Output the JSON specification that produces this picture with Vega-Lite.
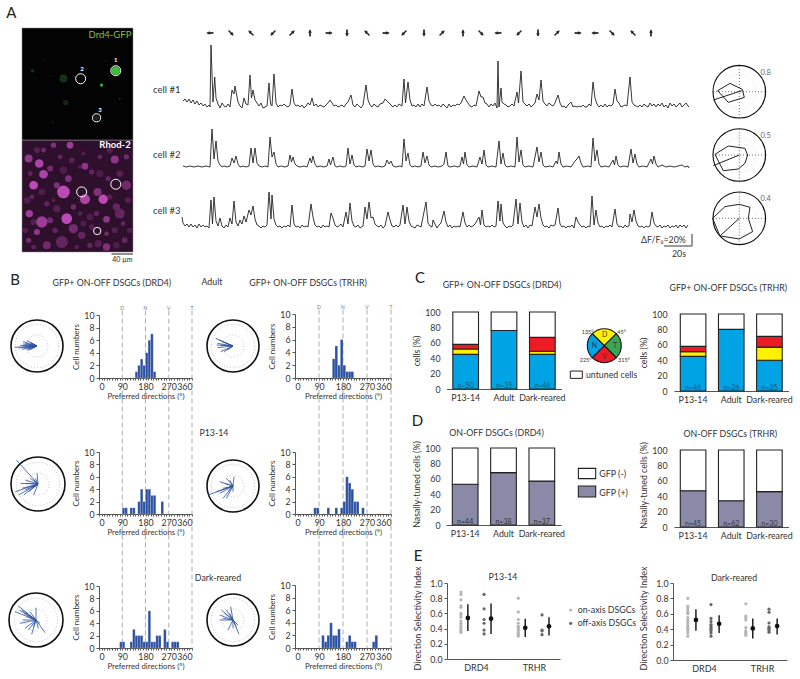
{"$schema":"https://vega.github.io/schema/vega-lite/v6.json","width":800,"height":679,"autosize":"none","padding":0,"background":"white",
"config":{"view":{"stroke":null},"axis":{"grid":false,"labelFont":"Lato","titleFont":"Lato","labelFontSize":8.8,"titleFontSize":8.8,"titleFontWeight":"normal","labelColor":"#333","titleColor":"#333","domainColor":"#555","tickColor":"#555"},"text":{"font":"Lato","fontSize":8.8,"color":"#333"}},
"resolve":{"scale":{"x":"independent","y":"independent","color":"independent","size":"independent","theta":"independent","angle":"independent"},"axis":{"x":"independent","y":"independent"}},
"layer":[
{"encoding":{"x":{"type":"quantitative","scale":{"domain":[65,400],"range":[22,133]},"axis":null},"y":{"type":"quantitative","scale":{"domain":[84,755],"range":[28,252]},"axis":null}},"layer":[
{"data":{"values":[{"x0":65,"x1":400,"y0":84,"y1":420}]},"mark":{"type":"rect","fill":"#020302","stroke":"#888","strokeWidth":0.5},"encoding":{"x":{"field":"x0"},"x2":{"field":"x1"},"y":{"field":"y0"},"y2":{"field":"y1"}}},
{"data":{"values":[{"x0":65,"x1":400,"y0":420,"y1":755}]},"mark":{"type":"rect","fill":"#2e0f2c","stroke":"#888","strokeWidth":0.5},"encoding":{"x":{"field":"x0"},"x2":{"field":"x1"},"y":{"field":"y0"},"y2":{"field":"y1"}}}
]},
{"data":{"values":[{"x":110,"y":450,"r":9,"i":0.3},{"x":190,"y":510,"r":11,"i":0.25},{"x":300,"y":520,"r":11,"i":0.25},{"x":360,"y":520,"r":10,"i":0.3},{"x":80,"y":600,"r":10,"i":0.25},{"x":125,"y":575,"r":10,"i":0.25},{"x":170,"y":625,"r":11,"i":0.3},{"x":270,"y":650,"r":10,"i":0.25},{"x":100,"y":665,"r":9,"i":0.3},{"x":250,"y":670,"r":9,"i":0.25},{"x":295,"y":730,"r":11,"i":0.3},{"x":350,"y":735,"r":10,"i":0.25},{"x":385,"y":600,"r":9,"i":0.3},{"x":330,"y":590,"r":8,"i":0.3},{"x":215,"y":480,"r":9,"i":0.3},{"x":330,"y":450,"r":9,"i":0.3},{"x":390,"y":690,"r":8,"i":0.3},{"x":75,"y":690,"r":8,"i":0.3},{"x":85,"y":475,"r":12,"i":0.7},{"x":117,"y":490,"r":13,"i":0.9},{"x":130,"y":522,"r":13,"i":0.9},{"x":100,"y":555,"r":13,"i":1},{"x":190,"y":575,"r":19,"i":1},{"x":160,"y":435,"r":8,"i":0.6},{"x":210,"y":435,"r":10,"i":0.8},{"x":345,"y":478,"r":12,"i":0.7},{"x":255,"y":498,"r":10,"i":0.7},{"x":205,"y":535,"r":10,"i":0.6},{"x":170,"y":555,"r":9,"i":0.6},{"x":150,"y":505,"r":9,"i":0.5},{"x":255,"y":597,"r":15,"i":0.9},{"x":310,"y":597,"r":14,"i":1},{"x":293,"y":575,"r":12,"i":0.6},{"x":200,"y":655,"r":16,"i":1},{"x":125,"y":665,"r":17,"i":0.8},{"x":87,"y":640,"r":11,"i":0.8},{"x":110,"y":695,"r":9,"i":0.7},{"x":140,"y":735,"r":12,"i":0.5},{"x":185,"y":725,"r":18,"i":0.4},{"x":220,"y":685,"r":14,"i":0.5},{"x":245,"y":705,"r":11,"i":0.4},{"x":320,"y":657,"r":10,"i":0.7},{"x":320,"y":740,"r":11,"i":0.6},{"x":360,"y":640,"r":15,"i":0.4},{"x":380,"y":555,"r":14,"i":0.5},{"x":350,"y":620,"r":11,"i":0.4},{"x":275,"y":515,"r":8,"i":0.4},{"x":325,"y":535,"r":8,"i":0.4},{"x":85,"y":720,"r":8,"i":0.5},{"x":270,"y":735,"r":8,"i":0.4},{"x":150,"y":660,"r":9,"i":0.5},{"x":380,"y":470,"r":8,"i":0.5},{"x":300,"y":470,"r":7,"i":0.4},{"x":95,"y":590,"r":7,"i":0.4},{"x":140,"y":610,"r":8,"i":0.4},{"x":220,"y":620,"r":8,"i":0.5},{"x":240,"y":640,"r":7,"i":0.3},{"x":290,"y":640,"r":8,"i":0.4},{"x":345,"y":690,"r":9,"i":0.3},{"x":375,"y":720,"r":9,"i":0.4},{"x":250,"y":460,"r":6,"i":0.3},{"x":180,"y":470,"r":7,"i":0.4},{"x":130,"y":450,"r":7,"i":0.5},{"x":90,"y":520,"r":7,"i":0.4},{"x":240,"y":500,"r":6,"i":0.3},{"x":370,"y":670,"r":7,"i":0.4},{"x":275,"y":680,"r":8,"i":0.3},{"x":165,"y":690,"r":8,"i":0.4},{"x":320,"y":700,"r":7,"i":0.5},{"x":100,"y":740,"r":7,"i":0.4},{"x":230,"y":740,"r":7,"i":0.3},{"x":160,"y":600,"r":6,"i":0.3}]},"mark":{"type":"circle","opacity":1},"encoding":{"x":{"field":"x","type":"quantitative","scale":{"domain":[65,400],"range":[22,133]},"axis":null},"y":{"field":"y","type":"quantitative","scale":{"domain":[84,755],"range":[28,252]},"axis":null},"size":{"field":"r","type":"quantitative","scale":{"type":"pow","exponent":2,"domain":[0,20],"range":[0,178]},"legend":null},"color":{"field":"i","type":"quantitative","scale":{"domain":[0,1],"range":["#2e0f2c","#bc4ab4"]},"legend":null}}},
{"data":{"values":[{"x":348,"y":212,"r":13,"i":1},{"x":305,"y":255,"r":5,"i":0.9},{"x":190,"y":235,"r":12,"i":0.25},{"x":97,"y":212,"r":5,"i":0.25},{"x":197,"y":307,"r":8,"i":0.18},{"x":360,"y":297,"r":3,"i":0.25},{"x":150,"y":228,"r":2,"i":0.2},{"x":130,"y":180,"r":3,"i":0.15},{"x":315,"y":183,"r":2,"i":0.2},{"x":158,"y":367,"r":3,"i":0.15},{"x":290,"y":353,"r":8,"i":0.2}]},"mark":{"type":"circle","opacity":1},"encoding":{"x":{"field":"x","type":"quantitative","scale":{"domain":[65,400],"range":[22,133]},"axis":null},"y":{"field":"y","type":"quantitative","scale":{"domain":[84,755],"range":[28,252]},"axis":null},"size":{"field":"r","type":"quantitative","scale":{"type":"pow","exponent":2,"domain":[0,20],"range":[0,178]},"legend":null},"color":{"field":"i","type":"quantitative","scale":{"domain":[0,1],"range":["#020302","#3cc03c"]},"legend":null}}},
{"encoding":{"x":{"type":"quantitative","scale":{"domain":[65,400],"range":[22,133]},"axis":null},"y":{"type":"quantitative","scale":{"domain":[84,755],"range":[28,252]},"axis":null}},"layer":[
{"data":{"values":[{"x":348,"y":212,"r":15},{"x":242,"y":236,"r":15},{"x":290,"y":353,"r":12},{"x":348,"y":552,"r":15},{"x":245,"y":575,"r":15},{"x":292,"y":692,"r":11}]},"mark":{"type":"point","filled":false,"stroke":"white","strokeWidth":1,"opacity":1},"encoding":{"x":{"field":"x"},"y":{"field":"y"},"size":{"field":"r","type":"quantitative","scale":{"type":"pow","exponent":2,"domain":[0,20],"range":[0,178]},"legend":null}}},
{"data":{"values":[{"x":348,"y":180,"s":"1"},{"x":246,"y":208,"s":"2"},{"x":300,"y":330,"s":"3"}]},"mark":{"type":"text","color":"white","fontSize":6,"fontWeight":"bold"},"encoding":{"x":{"field":"x"},"y":{"field":"y"},"text":{"field":"s"}}},
{"data":{"values":[{"x":395,"y":104,"s":"Drd4-GFP"}]},"mark":{"type":"text","color":"#8ac040","fontSize":9.5,"align":"right"},"encoding":{"x":{"field":"x"},"y":{"field":"y"},"text":{"field":"s"}}},
{"data":{"values":[{"x":393,"y":435,"s":"Rhod-2"}]},"mark":{"type":"text","color":"white","fontSize":9.5,"fontWeight":"bold","align":"right"},"encoding":{"x":{"field":"x"},"y":{"field":"y"},"text":{"field":"s"}}},
{"data":{"values":[{"x":335,"x1":400,"y":761}]},"mark":{"type":"rule","stroke":"#222","strokeWidth":1},"encoding":{"x":{"field":"x"},"x2":{"field":"x1"},"y":{"field":"y"}}},
{"data":{"values":[{"x":368,"y":778,"s":"40 µm"}]},"mark":{"type":"text","color":"#222","fontSize":7},"encoding":{"x":{"field":"x"},"y":{"field":"y"},"text":{"field":"s"}}},
{"data":{"values":[{"x":33,"y":40,"s":"A"}]},"mark":{"type":"text","color":"#222","fontSize":15},"encoding":{"x":{"field":"x"},"y":{"field":"y"},"text":{"field":"s"}}}
]},
{"encoding":{"x":{"type":"quantitative","scale":{"domain":[3,513],"range":[183,693]},"axis":null},"y":{"type":"quantitative","scale":{"domain":[0,100],"range":[106,6]},"axis":null}},"layer":[
{"data":{"values":[{"t":3,"v":5},{"t":5,"v":7},{"t":7,"v":4},{"t":9,"v":7},{"t":11,"v":3},{"t":13,"v":6},{"t":15,"v":2},{"t":17,"v":5},{"t":19,"v":1},{"t":21,"v":3},{"t":23,"v":0},{"t":25,"v":2},{"t":27,"v":-1},{"t":29,"v":1},{"t":30,"v":-1},{"t":31,"v":61},{"t":33,"v":4},{"t":34.7,"v":29},{"t":36,"v":8},{"t":38,"v":2},{"t":40,"v":-2},{"t":42,"v":3},{"t":44,"v":0},{"t":46,"v":-1},{"t":48,"v":2},{"t":50,"v":-1},{"t":52,"v":16},{"t":54,"v":12},{"t":55,"v":20},{"t":56.5,"v":12},{"t":58,"v":4},{"t":60,"v":0},{"t":62,"v":-2},{"t":64,"v":8},{"t":66,"v":2},{"t":68,"v":1},{"t":70,"v":31},{"t":71.5,"v":8},{"t":73,"v":16},{"t":75,"v":6},{"t":77,"v":3},{"t":79,"v":0},{"t":81,"v":3},{"t":83,"v":-2},{"t":85,"v":-1},{"t":87,"v":0},{"t":89,"v":23},{"t":90.5,"v":2},{"t":92,"v":0},{"t":94,"v":32},{"t":96,"v":3},{"t":98,"v":-1},{"t":100,"v":1},{"t":102,"v":0},{"t":104,"v":2},{"t":106,"v":0},{"t":108,"v":-1},{"t":110,"v":1},{"t":112,"v":17},{"t":114,"v":3},{"t":116,"v":0},{"t":118,"v":1},{"t":120,"v":-1},{"t":122,"v":1},{"t":124,"v":-2},{"t":126,"v":0},{"t":128,"v":3},{"t":130,"v":1},{"t":132,"v":8},{"t":134,"v":0},{"t":136,"v":2},{"t":138,"v":-1},{"t":140,"v":1},{"t":142,"v":0},{"t":144,"v":-1},{"t":146,"v":1},{"t":148,"v":3},{"t":150,"v":6},{"t":152,"v":3},{"t":154,"v":0},{"t":156,"v":1},{"t":158,"v":-1},{"t":160,"v":0},{"t":162,"v":1},{"t":164,"v":-1},{"t":166,"v":2},{"t":168,"v":4},{"t":171,"v":11},{"t":173,"v":1},{"t":175,"v":-1},{"t":177,"v":2},{"t":179,"v":0},{"t":181,"v":-2},{"t":183,"v":1},{"t":186,"v":21},{"t":188,"v":6},{"t":190,"v":1},{"t":192,"v":-1},{"t":194,"v":2},{"t":196,"v":0},{"t":198,"v":-1},{"t":200,"v":2},{"t":203,"v":3},{"t":205,"v":7},{"t":207,"v":5},{"t":209,"v":3},{"t":211,"v":1},{"t":213,"v":-1},{"t":215,"v":1},{"t":217,"v":-1},{"t":219,"v":2},{"t":222,"v":0},{"t":224,"v":27},{"t":225.5,"v":3},{"t":228,"v":24},{"t":230,"v":6},{"t":232,"v":0},{"t":234,"v":1},{"t":236,"v":-1},{"t":238,"v":2},{"t":240,"v":-1},{"t":242,"v":2},{"t":244,"v":0},{"t":247,"v":19},{"t":249,"v":5},{"t":251,"v":1},{"t":253,"v":0},{"t":255,"v":2},{"t":257,"v":0},{"t":259,"v":1},{"t":261,"v":-1},{"t":263,"v":2},{"t":265,"v":0},{"t":267,"v":-2},{"t":269,"v":2},{"t":271,"v":-1},{"t":273,"v":1},{"t":275,"v":0},{"t":277,"v":2},{"t":279,"v":1},{"t":281,"v":3},{"t":284,"v":10},{"t":286,"v":6},{"t":288,"v":3},{"t":290,"v":0},{"t":292,"v":-1},{"t":294,"v":1},{"t":296,"v":0},{"t":299,"v":15},{"t":301,"v":9},{"t":303,"v":9},{"t":305,"v":3},{"t":307,"v":2},{"t":309,"v":-1},{"t":311,"v":2},{"t":313,"v":0},{"t":315,"v":3},{"t":317,"v":-2},{"t":318,"v":45},{"t":319,"v":-1},{"t":321,"v":18},{"t":322,"v":4},{"t":324,"v":2},{"t":326,"v":1},{"t":328,"v":-1},{"t":330,"v":0},{"t":332,"v":2},{"t":334,"v":0},{"t":337,"v":14},{"t":338.5,"v":3},{"t":341,"v":35},{"t":343,"v":4},{"t":345,"v":2},{"t":347,"v":0},{"t":349,"v":2},{"t":351,"v":-1},{"t":353,"v":1},{"t":355,"v":3},{"t":357,"v":12},{"t":359,"v":6},{"t":361,"v":26},{"t":363,"v":5},{"t":365,"v":2},{"t":367,"v":0},{"t":369,"v":3},{"t":371,"v":1},{"t":373,"v":0},{"t":375,"v":3},{"t":378,"v":11},{"t":380,"v":3},{"t":382,"v":-1},{"t":384,"v":0},{"t":386,"v":-2},{"t":388,"v":1},{"t":391,"v":4},{"t":393,"v":-1},{"t":395,"v":0},{"t":397,"v":-1},{"t":399,"v":0},{"t":401,"v":-1},{"t":403,"v":1},{"t":405,"v":-1},{"t":407,"v":-1},{"t":409,"v":2},{"t":411,"v":0},{"t":413,"v":24},{"t":415,"v":8},{"t":417,"v":2},{"t":419,"v":-1},{"t":421,"v":1},{"t":423,"v":-1},{"t":425,"v":2},{"t":427,"v":-1},{"t":429,"v":1},{"t":431,"v":0},{"t":433,"v":2},{"t":435,"v":17},{"t":437,"v":5},{"t":439,"v":3},{"t":441,"v":-1},{"t":443,"v":0},{"t":445,"v":1},{"t":447,"v":0},{"t":450,"v":29},{"t":452,"v":4},{"t":454,"v":1},{"t":456,"v":0},{"t":458,"v":-1},{"t":460,"v":1},{"t":462,"v":-1},{"t":464,"v":2},{"t":466,"v":0},{"t":468,"v":-1},{"t":470,"v":3},{"t":472,"v":0},{"t":474,"v":2},{"t":476,"v":-1},{"t":478,"v":2},{"t":480,"v":0},{"t":482,"v":3},{"t":484,"v":-1},{"t":486,"v":1},{"t":488,"v":-2},{"t":490,"v":3},{"t":492,"v":0},{"t":494,"v":2},{"t":496,"v":-1},{"t":498,"v":1},{"t":500,"v":3},{"t":502,"v":-1},{"t":504,"v":1},{"t":506,"v":3},{"t":508,"v":0},{"t":509,"v":-1}]},"mark":{"type":"line","stroke":"#222","strokeWidth":0.9},"encoding":{"x":{"field":"t"},"y":{"field":"v"}}},
{"data":{"values":[{"t":-27,"v":16,"s":"cell #1"}]},"mark":{"type":"text","align":"left","fontSize":9.5},"encoding":{"x":{"field":"t"},"y":{"field":"v"},"text":{"field":"s"}}},
{"data":{"values":[{"t":30,"a":270},{"t":51,"a":135},{"t":71,"a":315},{"t":93,"a":225},{"t":112,"a":45},{"t":130,"a":0},{"t":149,"a":90},{"t":167,"a":180},{"t":187,"a":315},{"t":206,"a":90},{"t":224,"a":225},{"t":244,"a":180},{"t":262,"a":45},{"t":283,"a":0},{"t":301,"a":135},{"t":318,"a":270},{"t":339,"a":225},{"t":358,"a":180},{"t":377,"a":45},{"t":398,"a":90},{"t":415,"a":270},{"t":432,"a":135},{"t":453,"a":315},{"t":471,"a":0}]},"mark":{"type":"point","shape":"arrow","filled":true,"size":40,"fill":"#111","stroke":"#111","strokeWidth":0.6,"opacity":1},"encoding":{"x":{"field":"t"},"y":{"datum":73},"angle":{"field":"a","type":"quantitative","scale":{"domain":[0,360],"range":[0,360]}}}}
]},
{"encoding":{"x":{"type":"quantitative","scale":{"domain":[3,513],"range":[183,693]},"axis":null},"y":{"type":"quantitative","scale":{"domain":[0,100],"range":[167,67]},"axis":null}},"layer":[
{"data":{"values":[{"t":3,"v":1},{"t":6,"v":0},{"t":10,"v":1},{"t":14,"v":0},{"t":18,"v":1},{"t":22,"v":0},{"t":26,"v":1},{"t":30,"v":0},{"t":32,"v":38},{"t":34,"v":8},{"t":36,"v":26},{"t":38,"v":6},{"t":40,"v":2},{"t":42,"v":0},{"t":44,"v":1},{"t":47,"v":0},{"t":50,"v":1},{"t":52,"v":9},{"t":54,"v":4},{"t":56,"v":11},{"t":58,"v":3},{"t":60,"v":0},{"t":63,"v":1},{"t":66,"v":0},{"t":69,"v":1},{"t":71,"v":19},{"t":73,"v":4},{"t":75,"v":19},{"t":77,"v":4},{"t":79,"v":1},{"t":82,"v":0},{"t":85,"v":1},{"t":88,"v":0},{"t":90,"v":30},{"t":92,"v":10},{"t":94,"v":15},{"t":96,"v":3},{"t":98,"v":0},{"t":101,"v":1},{"t":105,"v":0},{"t":108,"v":1},{"t":110,"v":12},{"t":111.5,"v":5},{"t":113,"v":10},{"t":115,"v":3},{"t":117,"v":1},{"t":120,"v":0},{"t":124,"v":1},{"t":127,"v":0},{"t":130,"v":9},{"t":131.5,"v":4},{"t":133,"v":11},{"t":135,"v":3},{"t":137,"v":0},{"t":140,"v":1},{"t":144,"v":0},{"t":147,"v":1},{"t":149,"v":8},{"t":150.5,"v":2},{"t":153,"v":10},{"t":155,"v":1},{"t":157,"v":0},{"t":160,"v":1},{"t":164,"v":0},{"t":166,"v":1},{"t":168,"v":19},{"t":170,"v":3},{"t":172,"v":12},{"t":174,"v":2},{"t":176,"v":0},{"t":179,"v":1},{"t":183,"v":0},{"t":185,"v":1},{"t":187,"v":18},{"t":189,"v":6},{"t":191,"v":17},{"t":193,"v":3},{"t":195,"v":0},{"t":198,"v":1},{"t":202,"v":0},{"t":205,"v":1},{"t":207,"v":7},{"t":209,"v":3},{"t":211,"v":6},{"t":213,"v":1},{"t":216,"v":0},{"t":220,"v":1},{"t":222,"v":0},{"t":224,"v":28},{"t":226,"v":6},{"t":228,"v":14},{"t":230,"v":2},{"t":232,"v":0},{"t":235,"v":1},{"t":238,"v":0},{"t":241,"v":1},{"t":243,"v":15},{"t":245,"v":4},{"t":247,"v":11},{"t":249,"v":2},{"t":251,"v":0},{"t":255,"v":1},{"t":258,"v":0},{"t":262,"v":1},{"t":264,"v":3},{"t":266,"v":15},{"t":268,"v":1},{"t":270,"v":0},{"t":274,"v":1},{"t":278,"v":0},{"t":280,"v":1},{"t":282,"v":10},{"t":283.5,"v":3},{"t":285,"v":15},{"t":287,"v":2},{"t":289,"v":0},{"t":293,"v":1},{"t":297,"v":0},{"t":300,"v":10},{"t":302,"v":3},{"t":304,"v":17},{"t":306,"v":2},{"t":308,"v":0},{"t":312,"v":1},{"t":316,"v":0},{"t":319,"v":26},{"t":321,"v":3},{"t":323,"v":14},{"t":325,"v":2},{"t":327,"v":0},{"t":331,"v":1},{"t":335,"v":0},{"t":337,"v":30},{"t":339,"v":5},{"t":341,"v":17},{"t":343,"v":2},{"t":345,"v":0},{"t":349,"v":1},{"t":353,"v":0},{"t":357,"v":20},{"t":359,"v":5},{"t":361,"v":15},{"t":363,"v":2},{"t":365,"v":0},{"t":370,"v":1},{"t":373,"v":0},{"t":376,"v":6},{"t":377.5,"v":3},{"t":379,"v":15},{"t":381,"v":3},{"t":383,"v":0},{"t":387,"v":1},{"t":391,"v":0},{"t":395,"v":6},{"t":397,"v":8},{"t":399,"v":11},{"t":401,"v":4},{"t":403,"v":0},{"t":408,"v":1},{"t":411,"v":0},{"t":413,"v":29},{"t":415,"v":6},{"t":417,"v":17},{"t":419,"v":3},{"t":421,"v":0},{"t":425,"v":1},{"t":429,"v":0},{"t":433,"v":7},{"t":434.5,"v":2},{"t":436,"v":11},{"t":438,"v":2},{"t":440,"v":0},{"t":444,"v":1},{"t":448,"v":0},{"t":451,"v":18},{"t":453,"v":4},{"t":455,"v":13},{"t":457,"v":3},{"t":459,"v":0},{"t":463,"v":1},{"t":467,"v":0},{"t":471,"v":8},{"t":472.5,"v":3},{"t":474,"v":11},{"t":476,"v":3},{"t":478,"v":0},{"t":482,"v":2},{"t":486,"v":0},{"t":490,"v":1},{"t":494,"v":0},{"t":498,"v":1},{"t":502,"v":2},{"t":505,"v":0},{"t":508,"v":1},{"t":509,"v":-1}]},"mark":{"type":"line","stroke":"#222","strokeWidth":0.9},"encoding":{"x":{"field":"t"},"y":{"field":"v"}}},
{"data":{"values":[{"t":-27,"v":12,"s":"cell #2"}]},"mark":{"type":"text","align":"left","fontSize":9.5},"encoding":{"x":{"field":"t"},"y":{"field":"v"},"text":{"field":"s"}}}
]},
{"encoding":{"x":{"type":"quantitative","scale":{"domain":[3,513],"range":[183,693]},"axis":null},"y":{"type":"quantitative","scale":{"domain":[0,100],"range":[227,127]},"axis":null}},"layer":[
{"data":{"values":[{"t":2,"v":10},{"t":3,"v":4},{"t":5,"v":1},{"t":7,"v":3},{"t":9,"v":0},{"t":11,"v":3},{"t":13,"v":0},{"t":15,"v":2},{"t":17,"v":-1},{"t":19,"v":3},{"t":21,"v":0},{"t":23,"v":2},{"t":25,"v":0},{"t":27,"v":1},{"t":29,"v":-1},{"t":31,"v":27},{"t":32.5,"v":3},{"t":34,"v":30},{"t":36,"v":6},{"t":38,"v":1},{"t":40,"v":9},{"t":42,"v":1},{"t":44,"v":-1},{"t":46,"v":2},{"t":48,"v":0},{"t":50,"v":9},{"t":52,"v":3},{"t":54,"v":26},{"t":56,"v":5},{"t":58,"v":1},{"t":60,"v":7},{"t":62,"v":3},{"t":64,"v":11},{"t":66,"v":5},{"t":69,"v":17},{"t":71,"v":12},{"t":73,"v":21},{"t":75,"v":8},{"t":77,"v":2},{"t":79,"v":1},{"t":81,"v":-1},{"t":83,"v":1},{"t":85,"v":0},{"t":87,"v":2},{"t":89,"v":35},{"t":91,"v":8},{"t":92,"v":32},{"t":94,"v":8},{"t":96,"v":2},{"t":98,"v":0},{"t":100,"v":1},{"t":102,"v":-1},{"t":104,"v":1},{"t":106,"v":0},{"t":108,"v":2},{"t":110,"v":0},{"t":112,"v":22},{"t":114,"v":3},{"t":116,"v":0},{"t":118,"v":1},{"t":120,"v":-1},{"t":122,"v":2},{"t":124,"v":0},{"t":126,"v":1},{"t":128,"v":0},{"t":131,"v":23},{"t":133,"v":10},{"t":135,"v":2},{"t":137,"v":0},{"t":139,"v":1},{"t":141,"v":-1},{"t":143,"v":2},{"t":145,"v":0},{"t":147,"v":1},{"t":149,"v":0},{"t":151,"v":14},{"t":153,"v":9},{"t":155,"v":2},{"t":157,"v":0},{"t":159,"v":1},{"t":161,"v":3},{"t":163,"v":0},{"t":166,"v":15},{"t":168,"v":3},{"t":170,"v":24},{"t":172,"v":6},{"t":174,"v":1},{"t":176,"v":0},{"t":178,"v":2},{"t":180,"v":-1},{"t":183,"v":1},{"t":185,"v":20},{"t":187,"v":8},{"t":189,"v":25},{"t":191,"v":9},{"t":193,"v":10},{"t":195,"v":3},{"t":197,"v":1},{"t":199,"v":0},{"t":201,"v":2},{"t":203,"v":-1},{"t":205,"v":1},{"t":208,"v":15},{"t":210,"v":7},{"t":212,"v":1},{"t":214,"v":0},{"t":216,"v":2},{"t":218,"v":0},{"t":220,"v":2},{"t":223,"v":22},{"t":225,"v":3},{"t":227,"v":20},{"t":229,"v":6},{"t":231,"v":1},{"t":233,"v":0},{"t":235,"v":-1},{"t":237,"v":2},{"t":239,"v":1},{"t":241,"v":0},{"t":246,"v":25},{"t":248,"v":4},{"t":250,"v":1},{"t":252,"v":0},{"t":253,"v":7},{"t":255,"v":3},{"t":257,"v":-1},{"t":259,"v":2},{"t":261,"v":4},{"t":264,"v":16},{"t":266,"v":5},{"t":268,"v":0},{"t":270,"v":2},{"t":272,"v":-1},{"t":274,"v":1},{"t":276,"v":0},{"t":278,"v":1},{"t":280,"v":0},{"t":283,"v":15},{"t":285,"v":4},{"t":287,"v":0},{"t":289,"v":2},{"t":291,"v":0},{"t":293,"v":1},{"t":295,"v":3},{"t":299,"v":10},{"t":300.5,"v":2},{"t":302,"v":17},{"t":304,"v":2},{"t":306,"v":0},{"t":308,"v":1},{"t":310,"v":0},{"t":312,"v":2},{"t":314,"v":0},{"t":316,"v":1},{"t":318,"v":26},{"t":320,"v":6},{"t":321,"v":23},{"t":323,"v":4},{"t":325,"v":1},{"t":327,"v":-1},{"t":329,"v":1},{"t":331,"v":0},{"t":333,"v":2},{"t":336,"v":28},{"t":338,"v":3},{"t":340,"v":24},{"t":342,"v":5},{"t":344,"v":0},{"t":346,"v":2},{"t":348,"v":-1},{"t":350,"v":2},{"t":352,"v":1},{"t":355,"v":20},{"t":357,"v":10},{"t":359,"v":23},{"t":361,"v":9},{"t":363,"v":2},{"t":365,"v":0},{"t":367,"v":1},{"t":369,"v":-1},{"t":371,"v":2},{"t":373,"v":1},{"t":375,"v":2},{"t":378,"v":19},{"t":380,"v":3},{"t":382,"v":0},{"t":384,"v":1},{"t":386,"v":-1},{"t":388,"v":1},{"t":390,"v":0},{"t":392,"v":2},{"t":394,"v":-1},{"t":396,"v":10},{"t":398,"v":5},{"t":400,"v":2},{"t":402,"v":0},{"t":404,"v":1},{"t":406,"v":-1},{"t":408,"v":1},{"t":410,"v":0},{"t":412,"v":31},{"t":414,"v":2},{"t":416,"v":17},{"t":418,"v":4},{"t":420,"v":0},{"t":422,"v":1},{"t":424,"v":-1},{"t":426,"v":1},{"t":428,"v":0},{"t":430,"v":2},{"t":432,"v":0},{"t":435,"v":18},{"t":437,"v":3},{"t":439,"v":0},{"t":441,"v":1},{"t":443,"v":-1},{"t":445,"v":2},{"t":447,"v":0},{"t":449,"v":1},{"t":450,"v":13},{"t":452,"v":5},{"t":454,"v":17},{"t":456,"v":6},{"t":458,"v":1},{"t":460,"v":0},{"t":462,"v":1},{"t":464,"v":-1},{"t":466,"v":1},{"t":468,"v":0},{"t":470,"v":1},{"t":472,"v":15},{"t":474,"v":4},{"t":476,"v":1},{"t":478,"v":0},{"t":480,"v":2},{"t":482,"v":-1},{"t":484,"v":1},{"t":486,"v":0},{"t":488,"v":2},{"t":490,"v":-1},{"t":492,"v":1},{"t":494,"v":0},{"t":496,"v":2},{"t":498,"v":-1},{"t":500,"v":2},{"t":502,"v":0},{"t":504,"v":2},{"t":506,"v":-1},{"t":508,"v":2}]},"mark":{"type":"line","stroke":"#222","strokeWidth":0.9},"encoding":{"x":{"field":"t"},"y":{"field":"v"}}},
{"data":{"values":[{"t":-27,"v":16,"s":"cell #3"}]},"mark":{"type":"text","align":"left","fontSize":9.5},"encoding":{"x":{"field":"t"},"y":{"field":"v"},"text":{"field":"s"}}},
{"data":{"values":[{"t":484,"v":-19,"t2":512,"v2":-19},{"t":512,"v":-19,"t2":512,"v2":-7}]},"mark":{"type":"rule","stroke":"#222","strokeWidth":0.9},"encoding":{"x":{"field":"t"},"y":{"field":"v"},"x2":{"field":"t2"},"y2":{"field":"v2"}}},
{"data":{"values":[{"t":461,"v":-13,"s":"ΔF/F₀=20%"}]},"mark":{"type":"text","align":"left"},"encoding":{"x":{"field":"t"},"y":{"field":"v"},"text":{"field":"s"}}},
{"data":{"values":[{"t":499,"v":-27,"s":"20s"}]},"mark":{"type":"text"},"encoding":{"x":{"field":"t"},"y":{"field":"v"},"text":{"field":"s"}}}
]},
{"encoding":{"x":{"type":"quantitative","scale":{"domain":[-90,90],"range":[709.3,769.3]},"axis":null},"y":{"type":"quantitative","scale":{"domain":[-90,90],"range":[121.7,61.7]},"axis":null}},"layer":[
{"data":{"values":[{"a":0,"b":0}]},"mark":{"type":"point","filled":false,"size":2770,"stroke":"#111","strokeWidth":1.1,"opacity":1},"encoding":{"x":{"field":"a"},"y":{"field":"b"}}},
{"data":{"values":[{"a":0,"b":0}]},"mark":{"type":"point","filled":false,"size":1200,"stroke":"#bbb","strokeWidth":0.5,"strokeDash":[1,2],"opacity":1},"encoding":{"x":{"field":"a"},"y":{"field":"b"}}},
{"data":{"values":[{"a":-79,"b":0,"c":79,"d":0},{"a":0,"b":-79,"c":0,"d":79}]},"mark":{"type":"rule","stroke":"#333","strokeWidth":0.7,"strokeDash":[1,2]},"encoding":{"x":{"field":"a"},"y":{"field":"b"},"x2":{"field":"c"},"y2":{"field":"d"}}},
{"data":{"values":[{"i":0,"dx":-65,"dy":3},{"i":1,"dx":-28,"dy":25},{"i":2,"dx":9,"dy":7},{"i":3,"dx":15,"dy":-17},{"i":4,"dx":-33,"dy":-32},{"i":5,"dx":-65,"dy":3}]},"mark":{"type":"line","stroke":"#222","strokeWidth":1},"encoding":{"x":{"field":"dx"},"y":{"field":"dy"},"order":{"field":"i"}}},
{"data":{"values":[{"a":-78,"b":-25,"c":7,"d":3}]},"mark":{"type":"rule","stroke":"#222","strokeWidth":1},"encoding":{"x":{"field":"a"},"y":{"field":"b"},"x2":{"field":"c"},"y2":{"field":"d"}}},
{"data":{"values":[{"a":79,"b":57,"s":"0.8"}]},"mark":{"type":"text","fontSize":7.5,"color":"#666"},"encoding":{"x":{"field":"a"},"y":{"field":"b"},"text":{"field":"s"}}}
]},
{"encoding":{"x":{"type":"quantitative","scale":{"domain":[-90,90],"range":[709.3,769.3]},"axis":null},"y":{"type":"quantitative","scale":{"domain":[-90,90],"range":[185,125]},"axis":null}},"layer":[
{"data":{"values":[{"a":0,"b":0}]},"mark":{"type":"point","filled":false,"size":2770,"stroke":"#111","strokeWidth":1.1,"opacity":1},"encoding":{"x":{"field":"a"},"y":{"field":"b"}}},
{"data":{"values":[{"a":0,"b":0}]},"mark":{"type":"point","filled":false,"size":1200,"stroke":"#bbb","strokeWidth":0.5,"strokeDash":[1,2],"opacity":1},"encoding":{"x":{"field":"a"},"y":{"field":"b"}}},
{"data":{"values":[{"a":-79,"b":0,"c":79,"d":0},{"a":0,"b":-79,"c":0,"d":79}]},"mark":{"type":"rule","stroke":"#333","strokeWidth":0.7,"strokeDash":[1,2]},"encoding":{"x":{"field":"a"},"y":{"field":"b"},"x2":{"field":"c"},"y2":{"field":"d"}}},
{"data":{"values":[{"i":0,"dx":-73,"dy":2},{"i":1,"dx":-33,"dy":27},{"i":2,"dx":17,"dy":20},{"i":3,"dx":25,"dy":0},{"i":4,"dx":17,"dy":-25},{"i":5,"dx":-3,"dy":-42},{"i":6,"dx":-48,"dy":-47},{"i":7,"dx":-73,"dy":2}]},"mark":{"type":"line","stroke":"#222","strokeWidth":1},"encoding":{"x":{"field":"dx"},"y":{"field":"dy"},"order":{"field":"i"}}},
{"data":{"values":[{"a":-78,"b":-32,"c":0,"d":0}]},"mark":{"type":"rule","stroke":"#222","strokeWidth":1},"encoding":{"x":{"field":"a"},"y":{"field":"b"},"x2":{"field":"c"},"y2":{"field":"d"}}},
{"data":{"values":[{"a":79,"b":57,"s":"0.5"}]},"mark":{"type":"text","fontSize":7.5,"color":"#666"},"encoding":{"x":{"field":"a"},"y":{"field":"b"},"text":{"field":"s"}}}
]},
{"encoding":{"x":{"type":"quantitative","scale":{"domain":[-90,90],"range":[709.3,769.3]},"axis":null},"y":{"type":"quantitative","scale":{"domain":[-90,90],"range":[248.3,188.3]},"axis":null}},"layer":[
{"data":{"values":[{"a":0,"b":0}]},"mark":{"type":"point","filled":false,"size":2770,"stroke":"#111","strokeWidth":1.1,"opacity":1},"encoding":{"x":{"field":"a"},"y":{"field":"b"}}},
{"data":{"values":[{"a":0,"b":0}]},"mark":{"type":"point","filled":false,"size":1200,"stroke":"#bbb","strokeWidth":0.5,"strokeDash":[1,2],"opacity":1},"encoding":{"x":{"field":"a"},"y":{"field":"b"}}},
{"data":{"values":[{"a":-79,"b":0,"c":79,"d":0},{"a":0,"b":-79,"c":0,"d":79}]},"mark":{"type":"rule","stroke":"#333","strokeWidth":0.7,"strokeDash":[1,2]},"encoding":{"x":{"field":"a"},"y":{"field":"b"},"x2":{"field":"c"},"y2":{"field":"d"}}},
{"data":{"values":[{"i":0,"dx":-80,"dy":0},{"i":1,"dx":-43,"dy":35},{"i":2,"dx":0,"dy":42},{"i":3,"dx":32,"dy":33},{"i":4,"dx":27,"dy":0},{"i":5,"dx":40,"dy":-40},{"i":6,"dx":0,"dy":-62},{"i":7,"dx":-58,"dy":-53},{"i":8,"dx":-80,"dy":0}]},"mark":{"type":"line","stroke":"#222","strokeWidth":1},"encoding":{"x":{"field":"dx"},"y":{"field":"dy"},"order":{"field":"i"}}},
{"data":{"values":[{"a":-58,"b":-53,"c":0,"d":0}]},"mark":{"type":"rule","stroke":"#222","strokeWidth":1},"encoding":{"x":{"field":"a"},"y":{"field":"b"},"x2":{"field":"c"},"y2":{"field":"d"}}},
{"data":{"values":[{"a":79,"b":57,"s":"0.4"}]},"mark":{"type":"text","fontSize":7.5,"color":"#666"},"encoding":{"x":{"field":"a"},"y":{"field":"b"},"text":{"field":"s"}}}
]},
{"encoding":{"x":{"type":"quantitative","scale":{"domain":[-90,90],"range":[7,67]},"axis":null},"y":{"type":"quantitative","scale":{"domain":[-90,90],"range":[376,316]},"axis":null}},"layer":[
{"data":{"values":[{"a":0,"b":0}]},"mark":{"type":"point","filled":false,"size":2704,"stroke":"#111","strokeWidth":1.6,"opacity":1},"encoding":{"x":{"field":"a"},"y":{"field":"b"}}},
{"data":{"values":[{"a":0,"b":0}]},"mark":{"type":"point","filled":false,"size":1884,"stroke":"#999","strokeWidth":0.6,"strokeDash":[1,2],"opacity":1},"encoding":{"x":{"field":"a"},"y":{"field":"b"}}},
{"data":{"values":[{"a":0,"b":0}]},"mark":{"type":"point","filled":false,"size":484,"stroke":"#999","strokeWidth":0.6,"strokeDash":[1,2],"opacity":1},"encoding":{"x":{"field":"a"},"y":{"field":"b"}}},
{"data":{"values":[{"a":-67,"b":-4},{"a":-42,"b":13},{"a":-37,"b":-7},{"a":-42,"b":6},{"a":-30,"b":-13},{"a":-45,"b":-10},{"a":-30,"b":16},{"a":-20,"b":11},{"a":-25,"b":4},{"a":-55,"b":-6},{"a":-40,"b":0},{"a":-35,"b":8},{"a":-28,"b":-10},{"a":-22,"b":-12},{"a":-50,"b":2},{"a":-18,"b":8}]},"mark":{"type":"rule","stroke":"#2b50a0","strokeWidth":0.8},"encoding":{"x":{"field":"a"},"y":{"field":"b"},"x2":{"datum":0},"y2":{"datum":0}}}
]},
{"encoding":{"x":{"type":"quantitative","scale":{"domain":[-90,90],"range":[203,263]},"axis":null},"y":{"type":"quantitative","scale":{"domain":[-90,90],"range":[376,316]},"axis":null}},"layer":[
{"data":{"values":[{"a":0,"b":0}]},"mark":{"type":"point","filled":false,"size":2704,"stroke":"#111","strokeWidth":1.6,"opacity":1},"encoding":{"x":{"field":"a"},"y":{"field":"b"}}},
{"data":{"values":[{"a":0,"b":0}]},"mark":{"type":"point","filled":false,"size":1884,"stroke":"#999","strokeWidth":0.6,"strokeDash":[1,2],"opacity":1},"encoding":{"x":{"field":"a"},"y":{"field":"b"}}},
{"data":{"values":[{"a":0,"b":0}]},"mark":{"type":"point","filled":false,"size":484,"stroke":"#999","strokeWidth":0.6,"strokeDash":[1,2],"opacity":1},"encoding":{"x":{"field":"a"},"y":{"field":"b"}}},
{"data":{"values":[{"a":-52,"b":23},{"a":-47,"b":8},{"a":-47,"b":-5},{"a":-37,"b":-17},{"a":-42,"b":18},{"a":-32,"b":13},{"a":-27,"b":-17},{"a":-17,"b":-12},{"a":-49,"b":3},{"a":-37,"b":3}]},"mark":{"type":"rule","stroke":"#2b50a0","strokeWidth":0.8},"encoding":{"x":{"field":"a"},"y":{"field":"b"},"x2":{"datum":0},"y2":{"datum":0}}}
]},
{"encoding":{"x":{"type":"quantitative","scale":{"domain":[-90,90],"range":[8,68]},"axis":null},"y":{"type":"quantitative","scale":{"domain":[-90,90],"range":[514,454]},"axis":null}},"layer":[
{"data":{"values":[{"a":0,"b":0}]},"mark":{"type":"point","filled":false,"size":2916,"stroke":"#111","strokeWidth":1.6,"opacity":1},"encoding":{"x":{"field":"a"},"y":{"field":"b"}}},
{"data":{"values":[{"a":0,"b":0}]},"mark":{"type":"point","filled":false,"size":1884,"stroke":"#999","strokeWidth":0.6,"strokeDash":[1,2],"opacity":1},"encoding":{"x":{"field":"a"},"y":{"field":"b"}}},
{"data":{"values":[{"a":0,"b":0}]},"mark":{"type":"point","filled":false,"size":484,"stroke":"#999","strokeWidth":0.6,"strokeDash":[1,2],"opacity":1},"encoding":{"x":{"field":"a"},"y":{"field":"b"}}},
{"data":{"values":[{"a":-65,"b":72},{"a":-68,"b":-23},{"a":-58,"b":-33},{"a":-13,"b":-33},{"a":-3,"b":32},{"a":-38,"b":12},{"a":-33,"b":2},{"a":-48,"b":-13},{"a":-28,"b":-23},{"a":-43,"b":-33},{"a":-23,"b":17},{"a":-13,"b":12},{"a":-53,"b":2},{"a":-18,"b":-13},{"a":-38,"b":-18},{"a":-8,"b":17}]},"mark":{"type":"rule","stroke":"#2b50a0","strokeWidth":0.8},"encoding":{"x":{"field":"a"},"y":{"field":"b"},"x2":{"datum":0},"y2":{"datum":0}}}
]},
{"encoding":{"x":{"type":"quantitative","scale":{"domain":[-90,90],"range":[203,263]},"axis":null},"y":{"type":"quantitative","scale":{"domain":[-90,90],"range":[516,456]},"axis":null}},"layer":[
{"data":{"values":[{"a":0,"b":0}]},"mark":{"type":"point","filled":false,"size":2704,"stroke":"#111","strokeWidth":1.6,"opacity":1},"encoding":{"x":{"field":"a"},"y":{"field":"b"}}},
{"data":{"values":[{"a":0,"b":0}]},"mark":{"type":"point","filled":false,"size":1884,"stroke":"#999","strokeWidth":0.6,"strokeDash":[1,2],"opacity":1},"encoding":{"x":{"field":"a"},"y":{"field":"b"}}},
{"data":{"values":[{"a":0,"b":0}]},"mark":{"type":"point","filled":false,"size":484,"stroke":"#999","strokeWidth":0.6,"strokeDash":[1,2],"opacity":1},"encoding":{"x":{"field":"a"},"y":{"field":"b"}}},
{"data":{"values":[{"a":-75,"b":-27},{"a":3,"b":28},{"a":-20,"b":23},{"a":-40,"b":13},{"a":-30,"b":-37},{"a":-20,"b":-37},{"a":-50,"b":-17},{"a":-30,"b":-7},{"a":-10,"b":18},{"a":-40,"b":-22},{"a":-15,"b":-17},{"a":-25,"b":8},{"a":0,"b":-17}]},"mark":{"type":"rule","stroke":"#2b50a0","strokeWidth":0.8},"encoding":{"x":{"field":"a"},"y":{"field":"b"},"x2":{"datum":0},"y2":{"datum":0}}}
]},
{"encoding":{"x":{"type":"quantitative","scale":{"domain":[-90,90],"range":[6,66]},"axis":null},"y":{"type":"quantitative","scale":{"domain":[-90,90],"range":[650,590]},"axis":null}},"layer":[
{"data":{"values":[{"a":0,"b":0}]},"mark":{"type":"point","filled":false,"size":2916,"stroke":"#111","strokeWidth":1.6,"opacity":1},"encoding":{"x":{"field":"a"},"y":{"field":"b"}}},
{"data":{"values":[{"a":0,"b":0}]},"mark":{"type":"point","filled":false,"size":1884,"stroke":"#999","strokeWidth":0.6,"strokeDash":[1,2],"opacity":1},"encoding":{"x":{"field":"a"},"y":{"field":"b"}}},
{"data":{"values":[{"a":0,"b":0}]},"mark":{"type":"point","filled":false,"size":484,"stroke":"#999","strokeWidth":0.6,"strokeDash":[1,2],"opacity":1},"encoding":{"x":{"field":"a"},"y":{"field":"b"}}},
{"data":{"values":[{"a":-53,"b":42},{"a":0,"b":37},{"a":27,"b":-38},{"a":-13,"b":-43},{"a":-48,"b":-10},{"a":-43,"b":30},{"a":-36,"b":20},{"a":-63,"b":25},{"a":-33,"b":-25},{"a":7,"b":-25},{"a":-23,"b":-30},{"a":-28,"b":10},{"a":-40,"b":0},{"a":12,"b":-10},{"a":-18,"b":25},{"a":-8,"b":-20},{"a":-50,"b":30}]},"mark":{"type":"rule","stroke":"#2b50a0","strokeWidth":0.8},"encoding":{"x":{"field":"a"},"y":{"field":"b"},"x2":{"datum":0},"y2":{"datum":0}}}
]},
{"encoding":{"x":{"type":"quantitative","scale":{"domain":[-90,90],"range":[203,263]},"axis":null},"y":{"type":"quantitative","scale":{"domain":[-90,90],"range":[650,590]},"axis":null}},"layer":[
{"data":{"values":[{"a":0,"b":0}]},"mark":{"type":"point","filled":false,"size":2704,"stroke":"#111","strokeWidth":1.6,"opacity":1},"encoding":{"x":{"field":"a"},"y":{"field":"b"}}},
{"data":{"values":[{"a":0,"b":0}]},"mark":{"type":"point","filled":false,"size":1884,"stroke":"#999","strokeWidth":0.6,"strokeDash":[1,2],"opacity":1},"encoding":{"x":{"field":"a"},"y":{"field":"b"}}},
{"data":{"values":[{"a":0,"b":0}]},"mark":{"type":"point","filled":false,"size":484,"stroke":"#999","strokeWidth":0.6,"strokeDash":[1,2],"opacity":1},"encoding":{"x":{"field":"a"},"y":{"field":"b"}}},
{"data":{"values":[{"a":-7,"b":40},{"a":-35,"b":30},{"a":18,"b":-43},{"a":-40,"b":15},{"a":-30,"b":5},{"a":-20,"b":30},{"a":-15,"b":-30},{"a":10,"b":-20},{"a":-25,"b":20},{"a":-10,"b":20},{"a":-40,"b":0},{"a":0,"b":-25},{"a":15,"b":-15}]},"mark":{"type":"rule","stroke":"#2b50a0","strokeWidth":0.8},"encoding":{"x":{"field":"a"},"y":{"field":"b"},"x2":{"datum":0},"y2":{"datum":0}}}
]},
{"encoding":{"x":{"type":"quantitative","scale":{"domain":[0,360],"range":[99,192]},"axis":null},"y":{"type":"quantitative","scale":{"domain":[0,10],"range":[378,315]},"axis":null}},"layer":[
{"data":{"values":[{"a":90,"y":10.7,"y2":-42.8},{"a":180,"y":10.7,"y2":-42.8},{"a":270,"y":10.7,"y2":-42.8},{"a":360,"y":10.7,"y2":-42.8}]},"mark":{"type":"rule","stroke":"#999","strokeWidth":0.8,"strokeDash":[5,3]},"encoding":{"x":{"field":"a"},"y":{"field":"y"},"y2":{"field":"y2"}}},
{"data":{"values":[{"a":90,"s":"D"},{"a":180,"s":"N"},{"a":270,"s":"V"},{"a":360,"s":"T"}]},"mark":{"type":"text","fontSize":5,"color":"#777"},"encoding":{"x":{"field":"a"},"y":{"datum":11.1},"text":{"field":"s"}}},
{"data":{"values":[{"a":50,"b":15.08,"s":"GFP+ ON-OFF DSGCs (DRD4)"},{"a":437,"b":15.2,"s":"Adult"}]},"mark":{"type":"text"},"encoding":{"x":{"field":"a"},"y":{"field":"b"},"text":{"field":"s"}}},
{"data":{"values":[{"a":-325,"b":15.5,"s":"B"}]},"mark":{"type":"text","fontSize":15,"color":"#222"},"encoding":{"x":{"field":"a"},"y":{"field":"b"},"text":{"field":"s"}}},
{"data":{"values":[{"a":445,"b":-8.7,"s":"P13-14"},{"a":460.7,"b":-31.7,"s":"Dark-reared"}]},"mark":{"type":"text"},"encoding":{"x":{"field":"a"},"y":{"field":"b"},"text":{"field":"s"}}}
]},
{"encoding":{"x":{"type":"quantitative","scale":{"domain":[0,360],"range":[295,391]},"axis":null},"y":{"type":"quantitative","scale":{"domain":[0,10],"range":[378,314]},"axis":null}},"layer":[
{"data":{"values":[{"a":90,"y":10.7,"y2":-42.2},{"a":180,"y":10.7,"y2":-42.2},{"a":270,"y":10.7,"y2":-42.2},{"a":360,"y":10.7,"y2":-42.2}]},"mark":{"type":"rule","stroke":"#999","strokeWidth":0.8,"strokeDash":[5,3]},"encoding":{"x":{"field":"a"},"y":{"field":"y"},"y2":{"field":"y2"}}},
{"data":{"values":[{"a":90,"s":"D"},{"a":180,"s":"N"},{"a":270,"s":"V"},{"a":360,"s":"T"}]},"mark":{"type":"text","fontSize":5,"color":"#777"},"encoding":{"x":{"field":"a"},"y":{"datum":11.1},"text":{"field":"s"}}},
{"data":{"values":[{"a":49,"b":14.84,"s":"GFP+ ON-OFF DSGCs (TRHR)"}]},"mark":{"type":"text"},"encoding":{"x":{"field":"a"},"y":{"field":"b"},"text":{"field":"s"}}}
]},
{"data":{"values":[{"b":140,"e":150,"n":1},{"b":150,"e":160,"n":2},{"b":160,"e":170,"n":3},{"b":170,"e":180,"n":2},{"b":180,"e":190,"n":4},{"b":190,"e":200,"n":6},{"b":200,"e":210,"n":7},{"b":210,"e":220,"n":1}]},"mark":{"type":"bar","fill":"#2b50a0","stroke":"white","strokeWidth":0.2},"encoding":{"x":{"field":"b","type":"quantitative","scale":{"domain":[0,360],"range":[99,192]},"axis":{"orient":"bottom","offset":-301,"values":[0,10,20,30,40,50,60,70,80,90,100,110,120,130,140,150,160,170,180,190,200,210,220,230,240,250,260,270,280,290,300,310,320,330,340,350,360],"labelExpr":"datum.value%90==0?datum.label:''","tickSize":2,"labelOverlap":false,"labelPadding":2,"title":"Preferred directions (°)","titleFontSize":7.8,"titlePadding":2}},"x2":{"field":"e"},"y":{"field":"n","type":"quantitative","scale":{"domain":[0,10],"range":[378,315]},"axis":{"orient":"left","offset":-99,"values":[0,2,4,6,8,10],"tickSize":3,"title":"Cell numbers","titleFontSize":8,"titlePadding":3}},"y2":{"datum":0}}},
{"data":{"values":[{"b":140,"e":150,"n":3},{"b":150,"e":160,"n":5},{"b":160,"e":170,"n":2},{"b":170,"e":180,"n":6},{"b":180,"e":190,"n":2},{"b":190,"e":200,"n":1},{"b":200,"e":210,"n":1},{"b":210,"e":220,"n":1}]},"mark":{"type":"bar","fill":"#2b50a0","stroke":"white","strokeWidth":0.2},"encoding":{"x":{"field":"b","type":"quantitative","scale":{"domain":[0,360],"range":[295,391]},"axis":{"orient":"bottom","offset":-301,"values":[0,10,20,30,40,50,60,70,80,90,100,110,120,130,140,150,160,170,180,190,200,210,220,230,240,250,260,270,280,290,300,310,320,330,340,350,360],"labelExpr":"datum.value%90==0?datum.label:''","tickSize":2,"labelOverlap":false,"labelPadding":2,"title":"Preferred directions (°)","titleFontSize":7.8,"titlePadding":2}},"x2":{"field":"e"},"y":{"field":"n","type":"quantitative","scale":{"domain":[0,10],"range":[378,314]},"axis":{"orient":"left","offset":-295,"values":[0,2,4,6,8,10],"tickSize":3,"title":"Cell numbers","titleFontSize":8,"titlePadding":3}},"y2":{"datum":0}}},
{"data":{"values":[{"b":90,"e":100,"n":1},{"b":100,"e":110,"n":1},{"b":120,"e":130,"n":1},{"b":130,"e":140,"n":1},{"b":150,"e":160,"n":2},{"b":160,"e":170,"n":4},{"b":170,"e":180,"n":2},{"b":180,"e":190,"n":4},{"b":190,"e":200,"n":4},{"b":200,"e":210,"n":3},{"b":210,"e":220,"n":3},{"b":240,"e":250,"n":2}]},"mark":{"type":"bar","fill":"#2b50a0","stroke":"white","strokeWidth":0.2},"encoding":{"x":{"field":"b","type":"quantitative","scale":{"domain":[0,360],"range":[99,192]},"axis":{"orient":"bottom","offset":-165,"values":[0,10,20,30,40,50,60,70,80,90,100,110,120,130,140,150,160,170,180,190,200,210,220,230,240,250,260,270,280,290,300,310,320,330,340,350,360],"labelExpr":"datum.value%90==0?datum.label:''","tickSize":2,"labelOverlap":false,"labelPadding":2,"title":"Preferred directions (°)","titleFontSize":7.8,"titlePadding":2}},"x2":{"field":"e"},"y":{"field":"n","type":"quantitative","scale":{"domain":[0,10],"range":[514,452]},"axis":{"orient":"left","offset":-99,"values":[0,2,4,6,8,10],"tickSize":3,"title":"Cell numbers","titleFontSize":8,"titlePadding":3}},"y2":{"datum":0}}},
{"data":{"values":[{"b":70,"e":80,"n":1},{"b":80,"e":90,"n":1},{"b":120,"e":130,"n":1},{"b":150,"e":160,"n":1},{"b":170,"e":180,"n":1},{"b":180,"e":190,"n":2},{"b":190,"e":200,"n":6},{"b":200,"e":210,"n":5},{"b":210,"e":220,"n":4},{"b":220,"e":230,"n":2},{"b":230,"e":240,"n":2},{"b":250,"e":260,"n":1}]},"mark":{"type":"bar","fill":"#2b50a0","stroke":"white","strokeWidth":0.2},"encoding":{"x":{"field":"b","type":"quantitative","scale":{"domain":[0,360],"range":[295,391]},"axis":{"orient":"bottom","offset":-165,"values":[0,10,20,30,40,50,60,70,80,90,100,110,120,130,140,150,160,170,180,190,200,210,220,230,240,250,260,270,280,290,300,310,320,330,340,350,360],"labelExpr":"datum.value%90==0?datum.label:''","tickSize":2,"labelOverlap":false,"labelPadding":2,"title":"Preferred directions (°)","titleFontSize":7.8,"titlePadding":2}},"x2":{"field":"e"},"y":{"field":"n","type":"quantitative","scale":{"domain":[0,10],"range":[514,452]},"axis":{"orient":"left","offset":-295,"values":[0,2,4,6,8,10],"tickSize":3,"title":"Cell numbers","titleFontSize":8,"titlePadding":3}},"y2":{"datum":0}}},
{"data":{"values":[{"b":80,"e":90,"n":1},{"b":90,"e":100,"n":1},{"b":120,"e":130,"n":1},{"b":130,"e":140,"n":3},{"b":140,"e":150,"n":2},{"b":150,"e":160,"n":2},{"b":160,"e":170,"n":2},{"b":170,"e":180,"n":1},{"b":180,"e":190,"n":1},{"b":190,"e":200,"n":6},{"b":200,"e":210,"n":1},{"b":210,"e":220,"n":1},{"b":220,"e":230,"n":2},{"b":230,"e":240,"n":2},{"b":250,"e":260,"n":3},{"b":260,"e":270,"n":1},{"b":280,"e":290,"n":1},{"b":290,"e":300,"n":1},{"b":300,"e":310,"n":1}]},"mark":{"type":"bar","fill":"#2b50a0","stroke":"white","strokeWidth":0.2},"encoding":{"x":{"field":"b","type":"quantitative","scale":{"domain":[0,360],"range":[99,192]},"axis":{"orient":"bottom","offset":-31,"values":[0,10,20,30,40,50,60,70,80,90,100,110,120,130,140,150,160,170,180,190,200,210,220,230,240,250,260,270,280,290,300,310,320,330,340,350,360],"labelExpr":"datum.value%90==0?datum.label:''","tickSize":2,"labelOverlap":false,"labelPadding":2,"title":"Preferred directions (°)","titleFontSize":7.8,"titlePadding":2}},"x2":{"field":"e"},"y":{"field":"n","type":"quantitative","scale":{"domain":[0,10],"range":[648,586]},"axis":{"orient":"left","offset":-99,"values":[0,2,4,6,8,10],"tickSize":3,"title":"Cell numbers","titleFontSize":8,"titlePadding":3}},"y2":{"datum":0}}},
{"data":{"values":[{"b":100,"e":110,"n":2},{"b":110,"e":120,"n":1},{"b":120,"e":130,"n":2},{"b":130,"e":140,"n":4},{"b":140,"e":150,"n":2},{"b":150,"e":160,"n":2},{"b":160,"e":170,"n":3},{"b":190,"e":200,"n":1},{"b":200,"e":210,"n":2},{"b":210,"e":220,"n":1},{"b":220,"e":230,"n":1},{"b":290,"e":300,"n":1},{"b":300,"e":310,"n":2}]},"mark":{"type":"bar","fill":"#2b50a0","stroke":"white","strokeWidth":0.2},"encoding":{"x":{"field":"b","type":"quantitative","scale":{"domain":[0,360],"range":[295,391]},"axis":{"orient":"bottom","offset":-31,"values":[0,10,20,30,40,50,60,70,80,90,100,110,120,130,140,150,160,170,180,190,200,210,220,230,240,250,260,270,280,290,300,310,320,330,340,350,360],"labelExpr":"datum.value%90==0?datum.label:''","tickSize":2,"labelOverlap":false,"labelPadding":2,"title":"Preferred directions (°)","titleFontSize":7.8,"titlePadding":2}},"x2":{"field":"e"},"y":{"field":"n","type":"quantitative","scale":{"domain":[0,10],"range":[648,585]},"axis":{"orient":"left","offset":-295,"values":[0,2,4,6,8,10],"tickSize":3,"title":"Cell numbers","titleFontSize":8,"titlePadding":3}},"y2":{"datum":0}}},
{"data":{"values":[{"g":"P13-14","k":"N","lo":0,"hi":45},{"g":"P13-14","k":"D","lo":45,"hi":52},{"g":"P13-14","k":"V","lo":52,"hi":58},{"g":"P13-14","k":"U","lo":58,"hi":100},{"g":"Adult","k":"N","lo":0,"hi":76},{"g":"Adult","k":"U","lo":76,"hi":100},{"g":"Dark-reared","k":"N","lo":0,"hi":45},{"g":"Dark-reared","k":"D","lo":45,"hi":49},{"g":"Dark-reared","k":"V","lo":49,"hi":67},{"g":"Dark-reared","k":"U","lo":67,"hi":100}]},"mark":{"type":"bar","stroke":"#222","strokeWidth":1.1},"encoding":{"x":{"field":"g","type":"nominal","sort":null,"scale":{"domain":["P13-14","Adult","Dark-reared"],"range":[446.5,561.5],"paddingInner":0.33,"paddingOuter":0.165},"axis":{"orient":"bottom","offset":-290,"ticks":false,"labelAngle":0,"labelPadding":4,"title":null}},"y":{"field":"lo","type":"quantitative","scale":{"domain":[0,100],"range":[389,312]},"axis":{"orient":"left","offset":-446,"values":[0,20,40,60,80,100],"domain":false,"ticks":false,"labelPadding":6,"title":"cells (%)","titlePadding":3}},"y2":{"field":"hi"},"color":{"field":"k","type":"nominal","scale":{"domain":["N","D","V","U"],"range":["#00a4e4","#fff200","#ed1c24","#ffffff"]},"legend":null}}},
{"encoding":{"x":{"type":"nominal","scale":{"domain":["P13-14","Adult","Dark-reared"],"range":[446.5,561.5],"paddingInner":0.33,"paddingOuter":0.165},"axis":null},"y":{"type":"quantitative","scale":{"domain":[0,100],"range":[389,312]},"axis":null}},"layer":[
{"data":{"values":[{"g":"P13-14","s":"n=50"},{"g":"Adult","s":"n=35"},{"g":"Dark-reared","s":"n=46"}]},"mark":{"type":"text","fontSize":7,"color":"#0b5c80"},"encoding":{"x":{"field":"g"},"y":{"datum":4},"text":{"field":"s"}}},
{"data":{"values":[{"g":"Adult","s":"GFP+ ON-OFF DSGCs (DRD4)"}]},"mark":{"type":"text","dx":-2},"encoding":{"x":{"field":"g"},"y":{"datum":135},"text":{"field":"s"}}},
{"data":{"values":[{"g":"Adult","s":"C"}]},"mark":{"type":"text","fontSize":15,"color":"#222","dx":-84},"encoding":{"x":{"field":"g"},"y":{"datum":144},"text":{"field":"s"}}}
]},
{"data":{"values":[{"g":"P13-14","k":"N","lo":0,"hi":45},{"g":"P13-14","k":"D","lo":45,"hi":51},{"g":"P13-14","k":"V","lo":51,"hi":58},{"g":"P13-14","k":"U","lo":58,"hi":100},{"g":"Adult","k":"N","lo":0,"hi":80},{"g":"Adult","k":"U","lo":80,"hi":100},{"g":"Dark-reared","k":"N","lo":0,"hi":40},{"g":"Dark-reared","k":"D","lo":40,"hi":57},{"g":"Dark-reared","k":"V","lo":57,"hi":71},{"g":"Dark-reared","k":"U","lo":71,"hi":100}]},"mark":{"type":"bar","stroke":"#222","strokeWidth":1.1},"encoding":{"x":{"field":"g","type":"nominal","sort":null,"scale":{"domain":["P13-14","Adult","Dark-reared"],"range":[674,788.5],"paddingInner":0.33,"paddingOuter":0.165},"axis":{"orient":"bottom","offset":-288,"ticks":false,"labelAngle":0,"labelPadding":4,"title":null}},"y":{"field":"lo","type":"quantitative","scale":{"domain":[0,100],"range":[391,314]},"axis":{"orient":"left","offset":-673,"values":[0,20,40,60,80,100],"domain":false,"ticks":false,"labelPadding":6,"title":"cells (%)","titlePadding":3}},"y2":{"field":"hi"},"color":{"field":"k","type":"nominal","scale":{"domain":["N","D","V","U"],"range":["#00a4e4","#fff200","#ed1c24","#ffffff"]},"legend":null}}},
{"encoding":{"x":{"type":"nominal","scale":{"domain":["P13-14","Adult","Dark-reared"],"range":[674,788.5],"paddingInner":0.33,"paddingOuter":0.165},"axis":null},"y":{"type":"quantitative","scale":{"domain":[0,100],"range":[391,314]},"axis":null}},"layer":[
{"data":{"values":[{"g":"P13-14","s":"n=46"},{"g":"Adult","s":"n=26"},{"g":"Dark-reared","s":"n=35"}]},"mark":{"type":"text","fontSize":7,"color":"#0b5c80"},"encoding":{"x":{"field":"g"},"y":{"datum":4},"text":{"field":"s"}}},
{"data":{"values":[{"g":"Adult","s":"GFP+ ON-OFF DSGCs (TRHR)"}]},"mark":{"type":"text","dx":-3},"encoding":{"x":{"field":"g"},"y":{"datum":134},"text":{"field":"s"}}}
]},
{"data":{"values":[{"k":"D","p":25,"o":1},{"k":"T","p":25,"o":2},{"k":"V","p":25,"o":3},{"k":"N","p":25,"o":4}]},"mark":{"type":"arc","outerRadius":17,"stroke":"#111","strokeWidth":1.1},"encoding":{"x":{"datum":0,"type":"quantitative","scale":{"domain":[-90,90],"range":[574.3,634.3]},"axis":null},"y":{"datum":0,"type":"quantitative","scale":{"domain":[-90,90],"range":[375.7,315.7]},"axis":null},"theta":{"field":"p","type":"quantitative","stack":true,"scale":{"range":[-0.7854,5.4978]}},"order":{"field":"o"},"color":{"field":"k","type":"nominal","scale":{"domain":["D","T","V","N"],"range":["#fff200","#3aa655","#ed1c24","#00a4e4"]},"legend":null}}},
{"encoding":{"x":{"type":"quantitative","scale":{"domain":[-90,90],"range":[574.3,634.3]},"axis":null},"y":{"type":"quantitative","scale":{"domain":[-90,90],"range":[375.7,315.7]},"axis":null}},"layer":[
{"data":{"values":[{"a":1,"b":32,"s":"D"},{"a":32,"b":-2,"s":"T"},{"a":0,"b":-35,"s":"V"},{"a":-30,"b":0,"s":"N"}]},"mark":{"type":"text","fontSize":7},"encoding":{"x":{"field":"a"},"y":{"field":"b"},"text":{"field":"s"}}},
{"data":{"values":[{"a":-50,"b":42,"s":"135°"},{"a":52,"b":42,"s":"45°"},{"a":-56,"b":-43,"s":"225°"},{"a":59,"b":-43,"s":"315°"}]},"mark":{"type":"text","fontSize":5.5},"encoding":{"x":{"field":"a"},"y":{"field":"b"},"text":{"field":"s"}}},
{"data":{"values":[{"a":-102,"c":-66,"b":-76,"d":-98}]},"mark":{"type":"rect","fill":"white","stroke":"#222","strokeWidth":1},"encoding":{"x":{"field":"a"},"x2":{"field":"c"},"y":{"field":"b"},"y2":{"field":"d"}}},
{"data":{"values":[{"a":-55,"b":-87,"s":"untuned cells"}]},"mark":{"type":"text","align":"left"},"encoding":{"x":{"field":"a"},"y":{"field":"b"},"text":{"field":"s"}}}
]},
{"data":{"values":[{"g":"P13-14","k":"GFP (+)","lo":0,"hi":53},{"g":"P13-14","k":"GFP (-)","lo":53,"hi":100},{"g":"Adult","k":"GFP (+)","lo":0,"hi":68},{"g":"Adult","k":"GFP (-)","lo":68,"hi":100},{"g":"Dark-reared","k":"GFP (+)","lo":0,"hi":57},{"g":"Dark-reared","k":"GFP (-)","lo":57,"hi":100}]},"mark":{"type":"bar","stroke":"#222","strokeWidth":1.1},"encoding":{"x":{"field":"g","type":"nominal","sort":null,"scale":{"domain":["P13-14","Adult","Dark-reared"],"range":[446,561],"paddingInner":0.33,"paddingOuter":0.165},"axis":{"orient":"bottom","offset":-154,"ticks":false,"labelAngle":0,"labelPadding":4,"title":null}},"y":{"field":"lo","type":"quantitative","scale":{"domain":[0,100],"range":[525,448]},"axis":{"orient":"left","offset":-446,"values":[0,20,40,60,80,100],"domain":false,"ticks":false,"labelPadding":6,"title":"Nasally-tuned cells (%)","titleY":484,"titlePadding":3}},"y2":{"field":"hi"},"color":{"field":"k","type":"nominal","scale":{"domain":["GFP (+)","GFP (-)"],"range":["#8a8aa8","#ffffff"]},"legend":null}}},
{"encoding":{"x":{"type":"nominal","scale":{"domain":["P13-14","Adult","Dark-reared"],"range":[446,561],"paddingInner":0.33,"paddingOuter":0.165},"axis":null},"y":{"type":"quantitative","scale":{"domain":[0,100],"range":[525,448]},"axis":null}},"layer":[
{"data":{"values":[{"g":"P13-14","s":"n=44"},{"g":"Adult","s":"n=38"},{"g":"Dark-reared","s":"n=37"}]},"mark":{"type":"text","fontSize":7,"color":"#333"},"encoding":{"x":{"field":"g"},"y":{"datum":4},"text":{"field":"s"}}},
{"data":{"values":[{"g":"Adult","s":"ON-OFF DSGCs (DRD4)"}]},"mark":{"type":"text","dx":-7},"encoding":{"x":{"field":"g"},"y":{"datum":119.5},"text":{"field":"s"}}},
{"data":{"values":[{"g":"Adult","s":"D"}]},"mark":{"type":"text","fontSize":15,"color":"#222","dx":-86},"encoding":{"x":{"field":"g"},"y":{"datum":135},"text":{"field":"s"}}}
]},
{"data":{"values":[{"g":"P13-14","k":"GFP (+)","lo":0,"hi":47},{"g":"P13-14","k":"GFP (-)","lo":47,"hi":100},{"g":"Adult","k":"GFP (+)","lo":0,"hi":34},{"g":"Adult","k":"GFP (-)","lo":34,"hi":100},{"g":"Dark-reared","k":"GFP (+)","lo":0,"hi":46},{"g":"Dark-reared","k":"GFP (-)","lo":46,"hi":100}]},"mark":{"type":"bar","stroke":"#222","strokeWidth":1.1},"encoding":{"x":{"field":"g","type":"nominal","sort":null,"scale":{"domain":["P13-14","Adult","Dark-reared"],"range":[674,788.5],"paddingInner":0.33,"paddingOuter":0.165},"axis":{"orient":"bottom","offset":-152,"ticks":false,"labelAngle":0,"labelPadding":4,"title":null}},"y":{"field":"lo","type":"quantitative","scale":{"domain":[0,100],"range":[527,450]},"axis":{"orient":"left","offset":-673,"values":[0,20,40,60,80,100],"domain":false,"ticks":false,"labelPadding":6,"title":"Nasally-tuned cells (%)","titleY":485,"titlePadding":3}},"y2":{"field":"hi"},"color":{"field":"k","type":"nominal","scale":{"domain":["GFP (+)","GFP (-)"],"range":["#8a8aa8","#ffffff"]},"legend":null}}},
{"encoding":{"x":{"type":"nominal","scale":{"domain":["P13-14","Adult","Dark-reared"],"range":[674,788.5],"paddingInner":0.33,"paddingOuter":0.165},"axis":null},"y":{"type":"quantitative","scale":{"domain":[0,100],"range":[527,450]},"axis":null}},"layer":[
{"data":{"values":[{"g":"P13-14","s":"n=45"},{"g":"Adult","s":"n=62"},{"g":"Dark-reared","s":"n=30"}]},"mark":{"type":"text","fontSize":7,"color":"#333"},"encoding":{"x":{"field":"g"},"y":{"datum":4},"text":{"field":"s"}}},
{"data":{"values":[{"g":"Adult","s":"ON-OFF DSGCs (TRHR)"}]},"mark":{"type":"text","dx":-1},"encoding":{"x":{"field":"g"},"y":{"datum":120.8},"text":{"field":"s"}}}
]},
{"encoding":{"x":{"type":"quantitative","scale":{"domain":[-90,90],"range":[556.7,616.7]},"axis":null},"y":{"type":"quantitative","scale":{"domain":[-90,90],"range":[510,450]},"axis":null}},"layer":[
{"data":{"values":[{"a":-25,"c":27,"b":35,"d":4}]},"mark":{"type":"rect","fill":"white","stroke":"#222","strokeWidth":1.1},"encoding":{"x":{"field":"a"},"x2":{"field":"c"},"y":{"field":"b"},"y2":{"field":"d"}}},
{"data":{"values":[{"a":-25,"c":27,"b":-18,"d":-51}]},"mark":{"type":"rect","fill":"#8a8aa8","stroke":"#222","strokeWidth":1.1},"encoding":{"x":{"field":"a"},"x2":{"field":"c"},"y":{"field":"b"},"y2":{"field":"d"}}},
{"data":{"values":[{"a":38,"b":18,"s":"GFP (-)"},{"a":38,"b":-38,"s":"GFP (+)"}]},"mark":{"type":"text","align":"left"},"encoding":{"x":{"field":"a"},"y":{"field":"b"},"text":{"field":"s"}}}
]},
{"data":{"values":[{"x":0.74,"v":0.88,"k":"on"},{"x":0.74,"v":0.85,"k":"on"},{"x":0.74,"v":0.78,"k":"on"},{"x":0.74,"v":0.7,"k":"on"},{"x":0.74,"v":0.68,"k":"on"},{"x":0.74,"v":0.6,"k":"on"},{"x":0.74,"v":0.58,"k":"on"},{"x":0.74,"v":0.55,"k":"on"},{"x":0.74,"v":0.5,"k":"on"},{"x":0.74,"v":0.47,"k":"on"},{"x":0.74,"v":0.44,"k":"on"},{"x":0.74,"v":0.42,"k":"on"},{"x":0.74,"v":0.4,"k":"on"},{"x":0.74,"v":0.38,"k":"on"},{"x":0.74,"v":0.36,"k":"on"},{"x":0.74,"v":0.35,"k":"on"},{"x":1.14,"v":0.85,"k":"off"},{"x":1.14,"v":0.66,"k":"off"},{"x":1.14,"v":0.52,"k":"off"},{"x":1.14,"v":0.47,"k":"off"},{"x":1.14,"v":0.38,"k":"off"},{"x":1.14,"v":0.33,"k":"off"},{"x":1.73,"v":0.8,"k":"on"},{"x":1.73,"v":0.62,"k":"on"},{"x":1.73,"v":0.52,"k":"on"},{"x":1.73,"v":0.47,"k":"on"},{"x":1.73,"v":0.43,"k":"on"},{"x":1.73,"v":0.42,"k":"on"},{"x":1.73,"v":0.4,"k":"on"},{"x":1.73,"v":0.38,"k":"on"},{"x":1.73,"v":0.36,"k":"on"},{"x":1.73,"v":0.34,"k":"on"},{"x":1.73,"v":0.32,"k":"on"},{"x":1.73,"v":0.3,"k":"on"},{"x":2.14,"v":0.58,"k":"off"},{"x":2.14,"v":0.38,"k":"off"},{"x":2.14,"v":0.37,"k":"off"},{"x":2.14,"v":0.32,"k":"off"}]},"mark":{"type":"circle","size":10,"opacity":1},"encoding":{"x":{"field":"x","type":"quantitative","scale":{"domain":[0.5,2.45],"range":[447,560]},"axis":{"orient":"bottom","offset":-20,"values":[1,2],"labelExpr":"datum.value==1?'DRD4':'TRHR'","ticks":false,"labelPadding":4,"title":null,"labelFontSize":9}},"y":{"field":"v","type":"quantitative","scale":{"domain":[0,1],"range":[659,583]},"axis":{"orient":"left","offset":-447,"values":[0,0.2,0.4,0.6,0.8,1],"tickSize":3,"title":"Direction Selectivity Index","titleY":618,"titleFontSize":9,"titlePadding":7}},"color":{"field":"k","type":"nominal","scale":{"domain":["on","off"],"range":["#b5b5b5","#666666"]},"legend":null}}},
{"encoding":{"x":{"type":"quantitative","scale":{"domain":[0.5,2.45],"range":[447,560]},"axis":null},"y":{"type":"quantitative","scale":{"domain":[0,1],"range":[659,583]},"axis":null}},"layer":[
{"data":{"values":[{"x":0.86,"l":0.37,"h":0.72},{"x":1.26,"l":0.33,"h":0.73},{"x":1.85,"l":0.29,"h":0.53},{"x":2.26,"l":0.31,"h":0.55}]},"mark":{"type":"rule","stroke":"#111","strokeWidth":1.4},"encoding":{"x":{"field":"x"},"y":{"field":"l"},"y2":{"field":"h"}}},
{"data":{"values":[{"x":0.86,"m":0.54},{"x":1.26,"m":0.53},{"x":1.85,"m":0.41},{"x":2.26,"m":0.43}]},"mark":{"type":"circle","size":22,"color":"#111","opacity":1},"encoding":{"x":{"field":"x"},"y":{"field":"m"}}},
{"data":{"values":[{"x":1.466,"y":1.08,"s":"P13-14"}]},"mark":{"type":"text"},"encoding":{"x":{"field":"x"},"y":{"field":"y"},"text":{"field":"s"}}},
{"data":{"values":[{"x":0,"y":1.355,"s":"E"}]},"mark":{"type":"text","fontSize":15,"color":"#222"},"encoding":{"x":{"field":"x"},"y":{"field":"y"},"text":{"field":"s"}}}
]},
{"data":{"values":[{"x":0.72,"v":0.8,"k":"on"},{"x":0.72,"v":0.7,"k":"on"},{"x":0.72,"v":0.68,"k":"on"},{"x":0.72,"v":0.65,"k":"on"},{"x":0.72,"v":0.62,"k":"on"},{"x":0.72,"v":0.6,"k":"on"},{"x":0.72,"v":0.55,"k":"on"},{"x":0.72,"v":0.52,"k":"on"},{"x":0.72,"v":0.5,"k":"on"},{"x":0.72,"v":0.47,"k":"on"},{"x":0.72,"v":0.44,"k":"on"},{"x":0.72,"v":0.42,"k":"on"},{"x":0.72,"v":0.4,"k":"on"},{"x":0.72,"v":0.38,"k":"on"},{"x":0.72,"v":0.35,"k":"on"},{"x":0.72,"v":0.31,"k":"on"},{"x":1.12,"v":0.72,"k":"off"},{"x":1.12,"v":0.54,"k":"off"},{"x":1.12,"v":0.5,"k":"off"},{"x":1.12,"v":0.46,"k":"off"},{"x":1.12,"v":0.44,"k":"off"},{"x":1.12,"v":0.42,"k":"off"},{"x":1.12,"v":0.4,"k":"off"},{"x":1.12,"v":0.38,"k":"off"},{"x":1.12,"v":0.35,"k":"off"},{"x":1.12,"v":0.31,"k":"off"},{"x":1.72,"v":0.73,"k":"on"},{"x":1.72,"v":0.57,"k":"on"},{"x":1.72,"v":0.55,"k":"on"},{"x":1.72,"v":0.52,"k":"on"},{"x":1.72,"v":0.42,"k":"on"},{"x":1.72,"v":0.38,"k":"on"},{"x":1.72,"v":0.36,"k":"on"},{"x":1.72,"v":0.34,"k":"on"},{"x":1.72,"v":0.32,"k":"on"},{"x":2.12,"v":0.66,"k":"off"},{"x":2.12,"v":0.62,"k":"off"},{"x":2.12,"v":0.48,"k":"off"},{"x":2.12,"v":0.43,"k":"off"},{"x":2.12,"v":0.42,"k":"off"},{"x":2.12,"v":0.4,"k":"off"},{"x":2.12,"v":0.38,"k":"off"},{"x":2.12,"v":0.36,"k":"off"}]},"mark":{"type":"circle","size":10,"opacity":1},"encoding":{"x":{"field":"x","type":"quantitative","scale":{"domain":[0.47,2.43],"range":[673.3,787]},"axis":{"orient":"bottom","offset":-19,"values":[1,2],"labelExpr":"datum.value==1?'DRD4':'TRHR'","ticks":false,"labelPadding":4,"title":null,"labelFontSize":9}},"y":{"field":"v","type":"quantitative","scale":{"domain":[0,1],"range":[660,583]},"axis":{"orient":"left","offset":-673,"values":[0,0.2,0.4,0.6,0.8,1],"tickSize":3,"title":"Direction Selectivity Index","titleY":618,"titleFontSize":9,"titlePadding":7}},"color":{"field":"k","type":"nominal","scale":{"domain":["on","off"],"range":["#b5b5b5","#666666"]},"legend":null}}},
{"encoding":{"x":{"type":"quantitative","scale":{"domain":[0.47,2.43],"range":[673.3,787]},"axis":null},"y":{"type":"quantitative","scale":{"domain":[0,1],"range":[660,583]},"axis":null}},"layer":[
{"data":{"values":[{"x":0.86,"l":0.38,"h":0.66},{"x":1.26,"l":0.35,"h":0.58},{"x":1.84,"l":0.28,"h":0.54},{"x":2.26,"l":0.33,"h":0.54}]},"mark":{"type":"rule","stroke":"#111","strokeWidth":1.4},"encoding":{"x":{"field":"x"},"y":{"field":"l"},"y2":{"field":"h"}}},
{"data":{"values":[{"x":0.86,"m":0.52},{"x":1.26,"m":0.47},{"x":1.84,"m":0.41},{"x":2.26,"m":0.44}]},"mark":{"type":"circle","size":22,"color":"#111","opacity":1},"encoding":{"x":{"field":"x"},"y":{"field":"m"}}},
{"data":{"values":[{"x":1.517,"y":1.065,"s":"Dark-reared"}]},"mark":{"type":"text"},"encoding":{"x":{"field":"x"},"y":{"field":"y"},"text":{"field":"s"}}}
]},
{"data":{"values":[{"a":-48,"b":20,"k":"on"},{"a":-48,"b":-20,"k":"off"}]},"mark":{"type":"circle","size":10,"opacity":1},"encoding":{"x":{"field":"a","type":"quantitative","scale":{"domain":[-90,90],"range":[556.7,616.7]},"axis":null},"y":{"field":"b","type":"quantitative","scale":{"domain":[-90,90],"range":[646.7,586.7]},"axis":null},"color":{"field":"k","type":"nominal","scale":{"domain":["on","off"],"range":["#b5b5b5","#666666"]},"legend":null}}},
{"data":{"values":[{"a":-27,"b":20,"s":"on-axis DSGCs"},{"a":-27,"b":-20,"s":"off-axis DSGCs"}]},"mark":{"type":"text","align":"left"},"encoding":{"x":{"field":"a","type":"quantitative","scale":{"domain":[-90,90],"range":[556.7,616.7]},"axis":null},"y":{"field":"b","type":"quantitative","scale":{"domain":[-90,90],"range":[646.7,586.7]},"axis":null},"text":{"field":"s"}}}
]}
